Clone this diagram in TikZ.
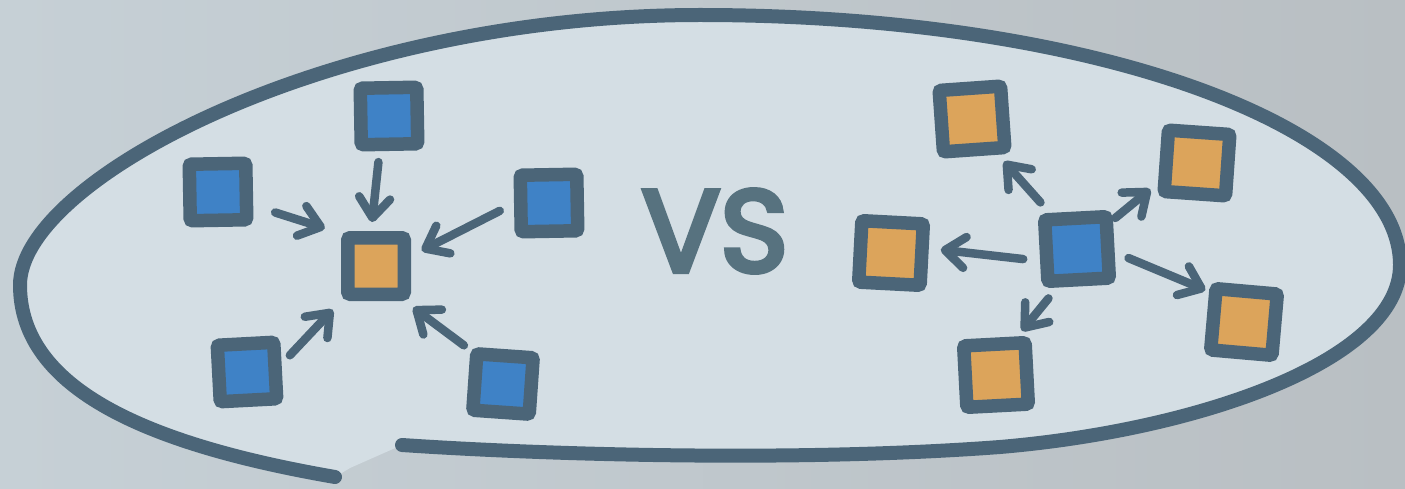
\documentclass[tikz,border=0pt]{standalone}
\usepackage{fontspec}
\newfontfamily\vsfont{Poppins}[FakeBold=4.5]
\usetikzlibrary{arrows.meta}
\definecolor{strokec}{HTML}{4B6578}
\definecolor{bluef}{HTML}{3F82C6}
\definecolor{orangef}{HTML}{DCA45B}
\definecolor{vsc}{HTML}{57727F}
\definecolor{bgl}{HTML}{C6D0D6}
\definecolor{bgr}{HTML}{B9BFC3}
\definecolor{innerc}{HTML}{D4DEE4}
\tikzset{
  bx/.style={draw=strokec, line width=13.5pt, rounded corners=2.5pt, minimum size=#1, inner sep=0pt, outer sep=6.75pt},
  lbx/.style={bx=56.5pt},
  rbx/.style={bx=61.5pt},
  arr/.style={draw=strokec, line width=8.5pt, line cap=round,
    -{Straight Barb[length=20pt, width=31pt, round]}},
  loopline/.style={draw=strokec, line width=14pt, line cap=round, line join=round}
}
\begin{document}
\begin{tikzpicture}[x=1pt, y=-1pt]
\useasboundingbox (0,0) rectangle (1405,489);
\shade[left color=bgl, right color=bgr] (0,0) rectangle (1405,489);
\fill[innerc] (335,477) .. controls (150,445) and (20,390) .. (20,285)
  .. controls (20,180) and (330,15) .. (700,15)
  .. controls (1100,15) and (1400,130) .. (1400,265)
  .. controls (1400,360) and (1200,430) .. (1000,447)
  .. controls (800,462) and (550,455) .. (402,445) -- (350,468) -- cycle;
\draw[loopline] (335,477) .. controls (150,445) and (20,390) .. (20,285)
  .. controls (20,180) and (330,15) .. (700,15)
  .. controls (1100,15) and (1400,130) .. (1400,265)
  .. controls (1400,360) and (1200,430) .. (1000,447)
  .. controls (800,462) and (550,455) .. (402,445);
% left group
\node[lbx, fill=bluef, rotate=1] (T) at (389,116) {};
\node[lbx, fill=bluef, rotate=1] (L) at (218,192) {};
\node[lbx, fill=bluef, rotate=1] (R) at (549,203) {};
\node[lbx, fill=orangef] (C) at (376,266) {};
\node[lbx, fill=bluef, rotate=3] (BL) at (247,372) {};
\node[lbx, fill=bluef, rotate=-4] (BR) at (503,384) {};
\draw[arr, shorten <=11pt, shorten >=9pt] (T.254) -- (C.98);
\draw[arr, shorten <=23pt, shorten >=17pt] (L.338) -- (C.137);
\draw[arr, shorten <=16pt, shorten >=12pt] (R.180) -- (C.16);
\draw[arr, shorten <=12pt, shorten >=12pt] (BL.10) -- (C.225);
\draw[arr, shorten <=8pt, shorten >=11pt] (BR.138) -- (C.309);
% VS
\node[text=vsc, inner sep=0pt, font=\vsfont\fontsize{116}{116}\selectfont] (vs) at (715,231) {VS};
% right group
\node[rbx, fill=orangef, rotate=4] (Tp) at (972,119) {};
\node[rbx, fill=orangef, rotate=-4] (TR) at (1197,163) {};
\node[rbx, fill=orangef, rotate=-3] (Lf) at (891,253) {};
\node[rbx, fill=bluef, rotate=3] (Cb) at (1077,249) {};
\node[rbx, fill=orangef, rotate=-5] (BRr) at (1244,322) {};
\node[rbx, fill=orangef, rotate=3] (Bt) at (996,375) {};
\draw[arr, shorten <=14pt, shorten >=9pt] (Cb.124) -- (Tp.302);
\draw[arr, shorten <=3pt, shorten >=10pt] (Cb.36) -- (TR.211);
\draw[arr, shorten <=17pt, shorten >=12pt] (Cb.195) -- (Lf.10);
\draw[arr, shorten <=15pt, shorten >=4pt] (Cb.352) -- (BRr.144);
\draw[arr, shorten <=14pt, shorten >=7pt] (Cb.240) -- (Bt.58);
\end{tikzpicture}
\end{document}
